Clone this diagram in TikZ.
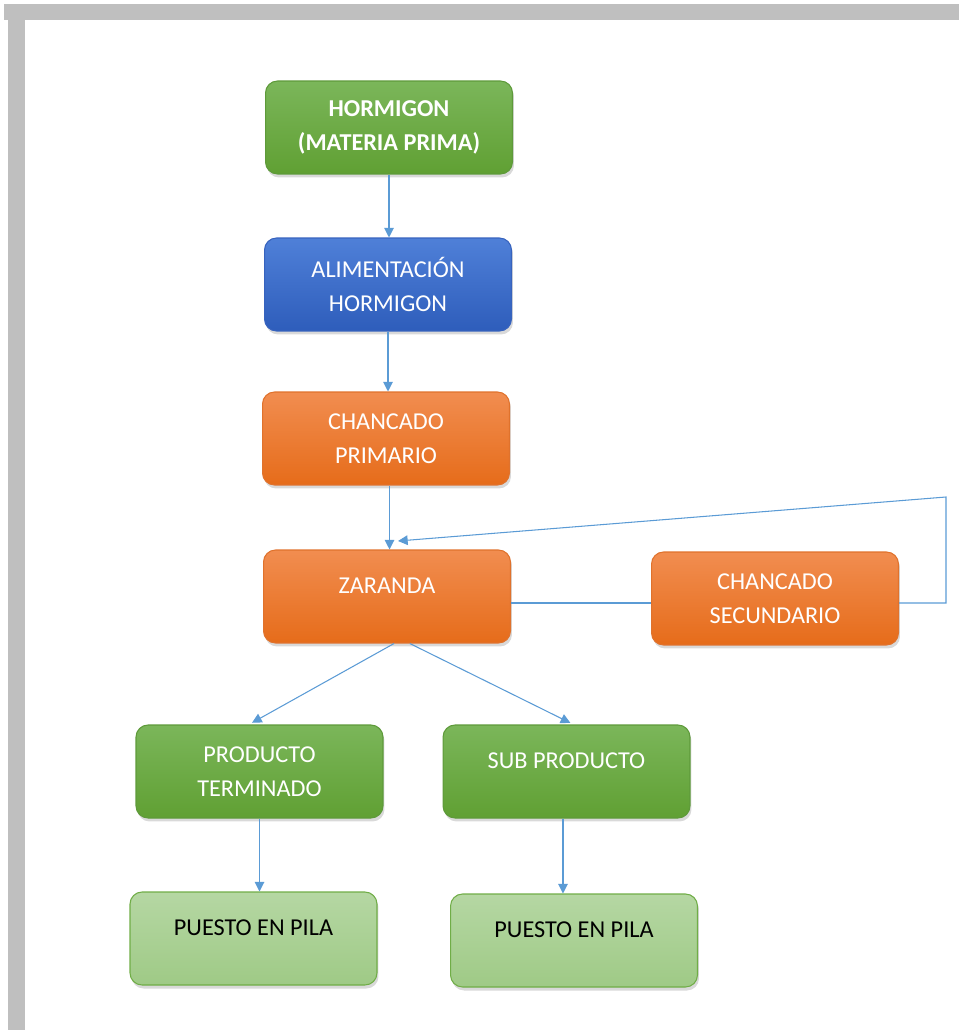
\documentclass[tikz,border=0pt]{standalone}
\usepackage{fontspec}
\setmainfont{Carlito}
\usetikzlibrary{arrows.meta,shadows}
\begin{document}
\begin{tikzpicture}[
  x=0.02cm, y=-0.02cm,
  font=\fontsize{13.8}{19.4}\selectfont,
  box/.style={rounded corners=0.24cm, align=center, text=white, line width=0.6pt,
              minimum width=4.94cm, minimum height=1.86cm, inner sep=0pt,
              drop shadow={shadow xshift=0.03cm, shadow yshift=-0.07cm, opacity=0.3}},
  greenbox/.style={box, draw=prgreenD, top color=prgreenT, bottom color=prgreenB},
  bluebox/.style={box, draw=prblueD, top color=prblueT, bottom color=prblueB},
  orangebox/.style={box, draw=prorangeD, top color=prorangeT, bottom color=prorangeB},
  pilebox/.style={box, text=black, draw=prpileD, top color=prpileT, bottom color=prpileB},
  upper/.style={text depth=0.42cm},
  flow/.style={draw=arrowblue, semithick, -{Triangle[width=5.5pt,length=5.5pt]}},
  link/.style={draw=arrowblue, semithick}
]
  \definecolor{framegray}{HTML}{BFBFBF}
  \definecolor{arrowblue}{HTML}{5B9BD5}
  \definecolor{prgreenT}{HTML}{7BB65A}
  \definecolor{prgreenB}{HTML}{60A033}
  \definecolor{prgreenD}{HTML}{5E9A3A}
  \definecolor{prblueT}{HTML}{4F80D8}
  \definecolor{prblueB}{HTML}{2E5DBB}
  \definecolor{prblueD}{HTML}{3763BE}
  \definecolor{prorangeT}{HTML}{F18D50}
  \definecolor{prorangeB}{HTML}{E66C1A}
  \definecolor{prorangeD}{HTML}{E0722C}
  \definecolor{prpileT}{HTML}{B5D7A3}
  \definecolor{prpileB}{HTML}{9FCA86}
  \definecolor{prpileD}{HTML}{70AD47}

  \useasboundingbox (0,0) rectangle (959,1030);

  % ================= PAGE FRAME =================
  \fill[framegray] (4,4) rectangle (959,20);
  \fill[framegray] (8,4) rectangle (25,1030);

  % ================= MAIN LINE =================
  \node[greenbox, font=\fontsize{13.8}{19.4}\selectfont\bfseries] (hormigon) at (389,127.5)
    {HORMIGON\\(MATERIA PRIMA)};
  \node[bluebox] (alim) at (388,284.5) {ALIMENTACIÓN\\HORMIGON};
  \node[orangebox] (chanc1) at (386,438.5) {CHANCADO\\PRIMARIO};
  \node[orangebox, upper] (zaranda) at (387,596.5) {ZARANDA};
  \node[orangebox] (chanc2) at (775,598.5) {CHANCADO\\SECUNDARIO};

  \draw[flow] (hormigon.south) -- (hormigon.south |- alim.north);
  \draw[flow] (alim.south) -- (alim.south |- chanc1.north);
  \draw[flow] ([xshift=2pt]chanc1.south) -- ([xshift=2pt]chanc1.south |- zaranda.north);

  % ================= RETURN LOOP =================
  \coordinate (ret) at (946,497);
  \coordinate (zin) at (398,541);
  \draw[link] ([yshift=-0.13cm]zaranda.east) -- ([yshift=-0.13cm]zaranda.east -| chanc2.west);
  \draw[flow] ([yshift=-0.09cm]chanc2.east) -- ([yshift=-0.09cm]chanc2.east -| ret) -- (ret) -- (zin);

  % ================= PRODUCTS =================
  \node[greenbox] (prodterm) at (259.5,771.5) {PRODUCTO\\TERMINADO};
  \node[greenbox, upper] (subprod) at (566.5,771.5) {SUB PRODUCTO};

  \draw[flow, shorten >=2pt] ([xshift=4]zaranda.south) -- ([xshift=-6]prodterm.north);
  \draw[flow, shorten >=2pt] ([xshift=13]zaranda.south) -- ([xshift=4]subprod.north);

  \node[pilebox, upper] (pila1) at (253.5,938.5) {PUESTO EN PILA};
  \node[pilebox, upper] (pila2) at (574,940.5) {PUESTO EN PILA};

  \draw[flow] (prodterm.south) -- (prodterm.south |- pila1.north);
  \draw[flow] ([xshift=-2]subprod.south) -- ([xshift=-2]subprod.south |- pila2.north);
\end{tikzpicture}
\end{document}
